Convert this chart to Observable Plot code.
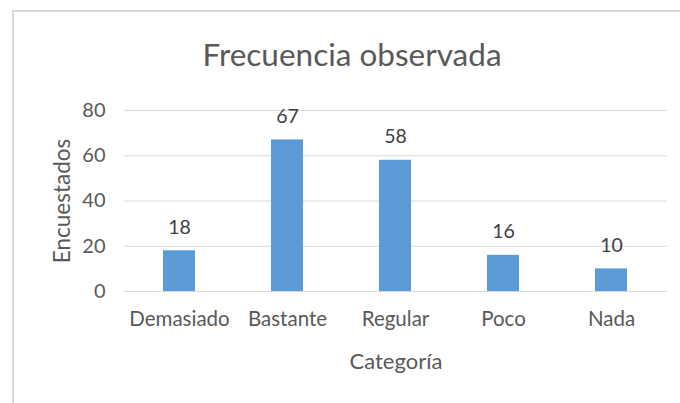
<!DOCTYPE html>
<html>
<head>
<meta charset="utf-8">
<script src="https://cdn.jsdelivr.net/npm/d3@7"></script>
<script src="https://cdn.jsdelivr.net/npm/@observablehq/plot@0.6"></script>
<style>
  html, body { margin: 0; padding: 0; background: #fff; }
  #chart { position: relative; width: 680px; height: 403px; overflow: hidden; font-family: Lato, "Open Sans", sans-serif; }
  #frame { position: absolute; left: 12px; top: 10px; width: 700px; height: 420px; border-left: 2px solid #d9d9d9; border-top: 2px solid #d9d9d9; }
  #title { height: 90px; line-height: 108px; text-align: center; font-size: 31.5px; color: #595959; padding-left: 24px; box-sizing: border-box; }
</style>
</head>
<body>
<div id="chart">
  <div id="frame"></div>
  <div id="title">Frecuencia observada</div>
  <div id="plot"></div>
</div>
<script>
const categories = ["Demasiado", "Bastante", "Regular", "Poco", "Nada"];
const values = [18, 67, 58, 16, 10];
const yTicks = [0, 20, 40, 60, 80];
const xTitle = "Categoría";
const yTitle = "Encuestados";

const data = categories.map((c, i) => ({categoria: c, valor: values[i]}));

const chart = Plot.plot({
  width: 680,
  height: 313,
  marginLeft: 124,
  marginRight: 13,
  marginTop: 20,
  marginBottom: 112,
  style: { fontFamily: "Lato, 'Open Sans', sans-serif", color: "#595959", background: "transparent" },
  x: { domain: categories, paddingInner: 0.7, paddingOuter: 0.35 },
  y: { domain: [0, 80] },
  marks: [
    Plot.gridY(yTicks, { stroke: "#d9d9d9", strokeOpacity: 1, strokeWidth: 1 }),
    Plot.barY(data, { x: "categoria", y: "valor", fill: "#5B9BD5" }),
    Plot.text(data, { x: "categoria", y: "valor", text: d => String(d.valor), lineAnchor: "bottom", dy: -17, fontSize: 19.5, fill: "#404040" }),
    Plot.axisY(yTicks, { tickSize: 0, tickPadding: 19, fontSize: 20, label: null }),
    Plot.axisX({ tickSize: 0, tickPadding: 20, fontSize: 20.5, label: null }),
    Plot.text([yTitle], { frameAnchor: "left", text: d => d, rotate: -90, dx: -62, textAnchor: "middle", lineAnchor: "middle", fontSize: 22.5, letterSpacing: "0.5px", fill: "#595959" }),
    Plot.text([xTitle], { frameAnchor: "bottom", text: d => d, dy: 70, textAnchor: "middle", lineAnchor: "middle", fontSize: 22, fill: "#595959" })
  ]
});
document.getElementById("plot").appendChild(chart);
</script>
</body>
</html>
